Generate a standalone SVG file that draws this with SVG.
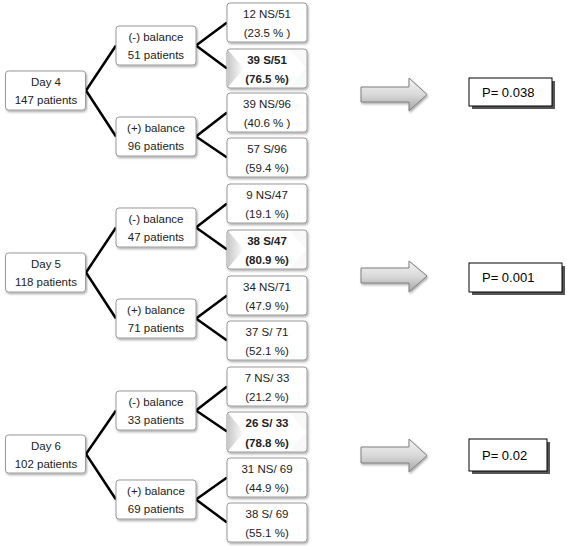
<svg xmlns="http://www.w3.org/2000/svg" width="567" height="550" viewBox="0 0 567 550">
<defs>
<filter id="sh" x="-10%" y="-10%" width="130%" height="140%"><feDropShadow dx="1" dy="1.5" stdDeviation="1" flood-color="#000" flood-opacity="0.35"/></filter>
<linearGradient id="tri" x1="0" y1="0" x2="1" y2="0"><stop offset="0" stop-color="#c8c8c8"/><stop offset="1" stop-color="#ffffff"/></linearGradient>
<linearGradient id="arr" x1="0" y1="0" x2="0" y2="1"><stop offset="0" stop-color="#f4f4f4"/><stop offset="0.5" stop-color="#d9d9d9"/><stop offset="1" stop-color="#a6a6a6"/></linearGradient>
</defs>
<style>
.b{fill:#fff;stroke:#9a9a9a;stroke-width:1;filter:url(#sh)}
.t{font-family:"Liberation Sans",Arial,sans-serif;font-size:11.5px;fill:#222;text-anchor:middle}
.bd{font-weight:bold}
.c{stroke:#000;stroke-width:2.5;fill:none;stroke-linejoin:miter}
.a{fill:url(#arr);stroke:#7f7f7f;stroke-width:1;filter:url(#sh)}
.p{fill:#fff;stroke:#000;stroke-width:1}
.ps{fill:#555}
.pt{font-family:"Liberation Sans",Arial,sans-serif;font-size:13px;fill:#000}
.rt{fill:#f9f9f9}
</style>
<rect width="567" height="550" fill="#fff"/>
<g id="connectors">
<polyline class="c" points="116,45.5 86,90.5 116,136.5"/>
<polyline class="c" points="227,22.5 196,45.5 227,68.5"/>
<polyline class="c" points="227,112.5 196,136.5 227,157.5"/>
<polyline class="c" points="116,227.5 86,272.5 116,318.5"/>
<polyline class="c" points="227,203.5 196,227.5 227,249.5"/>
<polyline class="c" points="227,295.5 196,318.5 227,340.5"/>
<polyline class="c" points="116,410.5 86,454 116,499.5"/>
<polyline class="c" points="227,386.5 196,410.5 227,431.5"/>
<polyline class="c" points="227,477.5 196,499.5 227,522.5"/>
</g>
<!-- Day 4 -->
<g id="day4"><rect class="b" x="5.5" y="71" width="80" height="39" rx="3"/><text class="t" x="46" y="86">Day  4</text><text class="t" x="46" y="104">147 patients</text></g>
<g id="d4neg"><rect class="b" x="116" y="26" width="80" height="39" rx="3"/><text class="t" x="156" y="41">(-) balance</text><text class="t" x="156" y="59">51 patients</text></g>
<g id="d4pos"><rect class="b" x="116" y="117" width="80" height="39" rx="3"/><text class="t" x="156" y="132">(+) balance</text><text class="t" x="156" y="150">96 patients</text></g>
<g id="d4r1"><rect class="b" x="227" y="3" width="80" height="39" rx="3"/><text class="t" x="267" y="18">12 NS/51</text><text class="t" x="267" y="37">(23.5 % )</text></g>
<g id="d4r2"><rect class="b" x="227" y="49" width="80" height="39" rx="3"/><polygon points="228,50 244,68.5 228,87" fill="url(#tri)"/><polygon class="rt" points="290,50 306,50 306,87 290,87 306,68.5"/><text class="t bd" x="267" y="64">39 S/51</text><text class="t bd" x="267" y="83">(76.5 %)</text></g>
<g id="d4r3"><rect class="b" x="227" y="93" width="80" height="39" rx="3"/><text class="t" x="267" y="108">39 NS/96</text><text class="t" x="267" y="127">(40.6 % )</text></g>
<g id="d4r4"><rect class="b" x="227" y="138" width="80" height="39" rx="3"/><text class="t" x="267" y="153">57 S/96</text><text class="t" x="267" y="172">(59.4 %)</text></g>
<!-- Day 5 -->
<g id="day5"><rect class="b" x="5.5" y="253" width="80" height="39" rx="3"/><text class="t" x="46" y="268">Day 5</text><text class="t" x="46" y="286">118 patients</text></g>
<g id="d5neg"><rect class="b" x="116" y="208" width="80" height="39" rx="3"/><text class="t" x="156" y="223">(-) balance</text><text class="t" x="156" y="241">47 patients</text></g>
<g id="d5pos"><rect class="b" x="116" y="299" width="80" height="39" rx="3"/><text class="t" x="156" y="314">(+) balance</text><text class="t" x="156" y="332">71 patients</text></g>
<g id="d5r1"><rect class="b" x="227" y="184" width="80" height="39" rx="3"/><text class="t" x="267" y="199">9 NS/47</text><text class="t" x="267" y="218">(19.1 %)</text></g>
<g id="d5r2"><rect class="b" x="227" y="230" width="80" height="39" rx="3"/><polygon points="228,231 244,249.5 228,268" fill="url(#tri)"/><polygon class="rt" points="290,231 306,231 306,268 290,268 306,249.5"/><text class="t bd" x="267" y="245">38 S/47</text><text class="t bd" x="267" y="264">(80.9 %)</text></g>
<g id="d5r3"><rect class="b" x="227" y="276" width="80" height="39" rx="3"/><text class="t" x="267" y="291">34 NS/71</text><text class="t" x="267" y="310">(47.9 %)</text></g>
<g id="d5r4"><rect class="b" x="227" y="321" width="80" height="39" rx="3"/><text class="t" x="267" y="336">37 S/ 71</text><text class="t" x="267" y="355">(52.1 %)</text></g>
<!-- Day 6 -->
<g id="day6"><rect class="b" x="5.5" y="435" width="80" height="38" rx="3"/><text class="t" x="46" y="450">Day 6</text><text class="t" x="46" y="468">102 patients</text></g>
<g id="d6neg"><rect class="b" x="116" y="391" width="80" height="39" rx="3"/><text class="t" x="156" y="406">(-) balance</text><text class="t" x="156" y="424">33 patients</text></g>
<g id="d6pos"><rect class="b" x="116" y="480" width="80" height="39" rx="3"/><text class="t" x="156" y="495">(+) balance</text><text class="t" x="156" y="513">69 patients</text></g>
<g id="d6r1"><rect class="b" x="227" y="367" width="80" height="39" rx="3"/><text class="t" x="267" y="382">7 NS/ 33</text><text class="t" x="267" y="401">(21.2 %)</text></g>
<g id="d6r2"><rect class="b" x="227" y="412" width="80" height="40" rx="3"/><polygon points="228,413 244,432 228,451" fill="url(#tri)"/><polygon class="rt" points="290,413 306,413 306,451 290,451 306,432"/><text class="t bd" x="267" y="427">26 S/ 33</text><text class="t bd" x="267" y="447">(78.8 %)</text></g>
<g id="d6r3"><rect class="b" x="227" y="458" width="80" height="39" rx="3"/><text class="t" x="267" y="473">31 NS/ 69</text><text class="t" x="267" y="492">(44.9 %)</text></g>
<g id="d6r4"><rect class="b" x="227" y="503" width="80" height="39" rx="3"/><text class="t" x="267" y="518">38 S/ 69</text><text class="t" x="267" y="537">(55.1 %)</text></g>
<!-- arrows and P values -->
<g id="arrow1"><polygon class="a" points="361,87 409,87 409,78 427,94.5 409,111 409,102 361,102"/></g>
<g id="p1"><rect class="ps" x="472" y="81" width="83" height="28"/><rect class="p" x="469" y="78" width="83" height="28"/><text class="pt" x="482" y="97">P= 0.038</text></g>
<g id="arrow2"><polygon class="a" points="361,268 409,268 409,261 427,276 409,292 409,283 361,283"/></g>
<g id="p2"><rect class="ps" x="472" y="266" width="93" height="29"/><rect class="p" x="469" y="263" width="93" height="29"/><text class="pt" x="482" y="282">P= 0.001</text></g>
<g id="arrow3"><polygon class="a" points="361,447 409,447 409,439 427,455.5 409,472 409,463 361,463"/></g>
<g id="p3"><rect class="ps" x="472" y="442" width="78" height="32"/><rect class="p" x="469" y="439" width="78" height="32"/><text class="pt" x="482" y="460">P= 0.02</text></g>
</svg>
